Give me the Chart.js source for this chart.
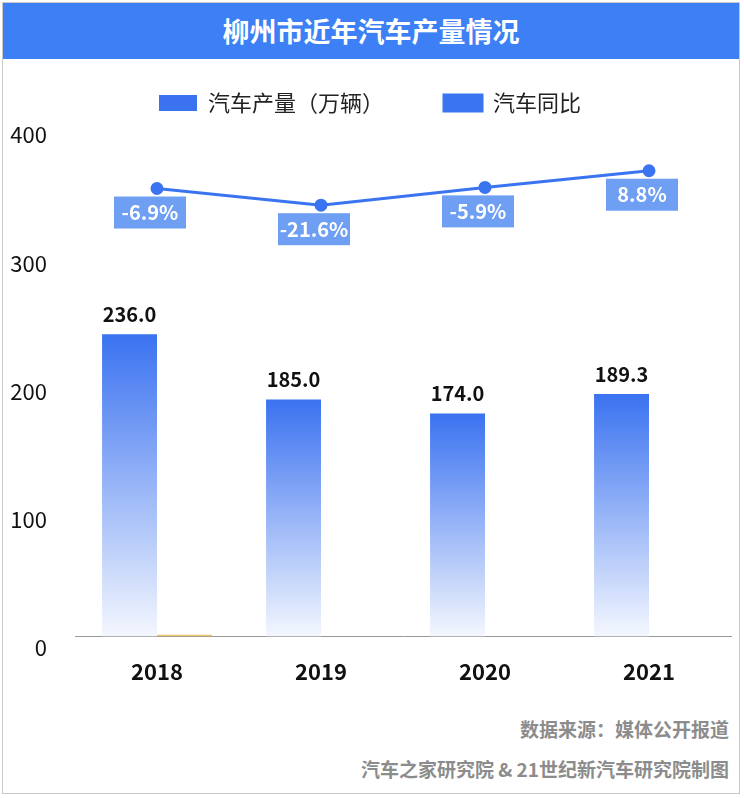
<!DOCTYPE html>
<html><head><meta charset="utf-8">
<script src="https://cdn.jsdelivr.net/npm/chart.js@4"></script>
<style>
body{margin:0;background:#fff;font-family:"Noto Sans CJK SC",sans-serif;}
#frame{position:absolute;left:2px;top:2px;width:738px;height:792px;border:1px solid #c8c8c8;box-sizing:border-box;}
#title{position:relative;z-index:2;height:56px;background:#3d7ff5;color:#fff;font-weight:bold;font-size:27px;text-align:center;line-height:56px;}
#wrap{position:absolute;left:0;top:29px;width:736px;height:667px;}
.foot{position:absolute;right:10px;color:#8c8c8c;font-weight:bold;font-size:19px;}
</style></head><body>
<div id="frame">
<div id="title">柳州市近年汽车产量情况</div>
<div id="wrap"><canvas id="c"></canvas></div>
<div class="foot" style="top:712px">数据来源：媒体公开报道</div>
<div class="foot" style="top:752px">汽车之家研究院 &amp; 21世纪新汽车研究院制图</div>
</div>
<script>
const years = ['2018', '2019', '2020', '2021'];
const output = [236.0, 185.0, 174.0, 189.3];
const extra = [1.5, 0, 0, 0];
const growth = [-6.9, -21.6, -5.9, 8.8];
const yTicks = [0, 100, 200, 300, 400];

function barGradient(ctx) {
    const chart = ctx.chart;
    if (!chart.chartArea || ctx.type !== 'data') return '#3b74f0';
    const y = chart.scales.y;
    const top = y.getPixelForValue(ctx.raw);
    const bottom = y.getPixelForValue(0);
    const g = chart.ctx.createLinearGradient(0, top, 0, bottom);
    g.addColorStop(0, '#3a72f0');
    g.addColorStop(1, '#f4f7fe');
    return g;
}

const labelPlugin = {
    id: 'labels',
    afterDatasetsDraw(chart) {
        const c = chart.ctx;
        c.save();
        c.textAlign = 'center';
        c.textBaseline = 'middle';
        chart.getDatasetMeta(0).data.forEach((el, i) => {
            c.fillStyle = '#111';
            c.font = 'bold 20px "Noto Sans CJK SC"';
            c.fillText(output[i].toFixed(1), el.x, el.y - 20);
        });
        chart.getDatasetMeta(2).data.forEach((el, i) => {
            const bx = el.x - 7, by = el.y + 24;
            c.fillStyle = '#6e9ff2';
            c.fillRect(bx - 36, by - 16, 72, 32);
            c.fillStyle = '#fff';
            c.font = 'bold 20px "Noto Sans CJK SC"';
            c.fillText(growth[i].toFixed(1) + '%', bx, by);
        });
        c.restore();
    }
};

new Chart(document.getElementById('c'), {
    data: {
        labels: years,
        datasets: [
            {type: 'bar', label: '汽车产量（万辆）', data: output, backgroundColor: barGradient,
             categoryPercentage: 0.67, barPercentage: 1, order: 2},
            {type: 'bar', label: 'extra', data: extra, backgroundColor: '#e8c46a',
             categoryPercentage: 0.67, barPercentage: 1, order: 3},
            {type: 'line', label: '汽车同比', data: growth, yAxisID: 'y1', borderColor: '#3b74f0',
             backgroundColor: '#3b74f0', borderWidth: 3, pointRadius: 5, order: 1}
        ]
    },
    options: {
        responsive: true, maintainAspectRatio: false, animation: false,
        layout: {padding: {left: 0, right: 2, top: 0}},
        plugins: {
            tooltip: {enabled: false},
            legend: {
                position: 'top', align: 'center',
                labels: {
                    filter: it => it.text !== 'extra',
                    sort: (a, b) => a.datasetIndex - b.datasetIndex,
                    font: {size: 22, family: '"Noto Sans CJK SC"'}, color: '#222',
                    boxWidth: 38, boxHeight: 16, padding: 60
                }
            }
        },
        scales: {
            x: {
                grid: {display: false},
                border: {color: '#999'},
                ticks: {font: {size: 22, weight: 'bold', family: '"Noto Sans CJK SC"'}, color: '#111', padding: 14}
            },
            y: {
                min: 0, max: 400,
                afterBuildTicks: ax => { ax.ticks = yTicks.map(v => ({value: v})); },
                grid: {display: false}, border: {display: false},
                afterFit: ax => { ax.width = 72; },
                ticks: {font: {size: 22, family: '"Noto Sans CJK SC"'}, color: '#111', align: 'start', padding: 20}
            },
            y1: {min: -402, max: 50, display: false}
        }
    },
    plugins: [labelPlugin]
});
</script>
</body></html>
